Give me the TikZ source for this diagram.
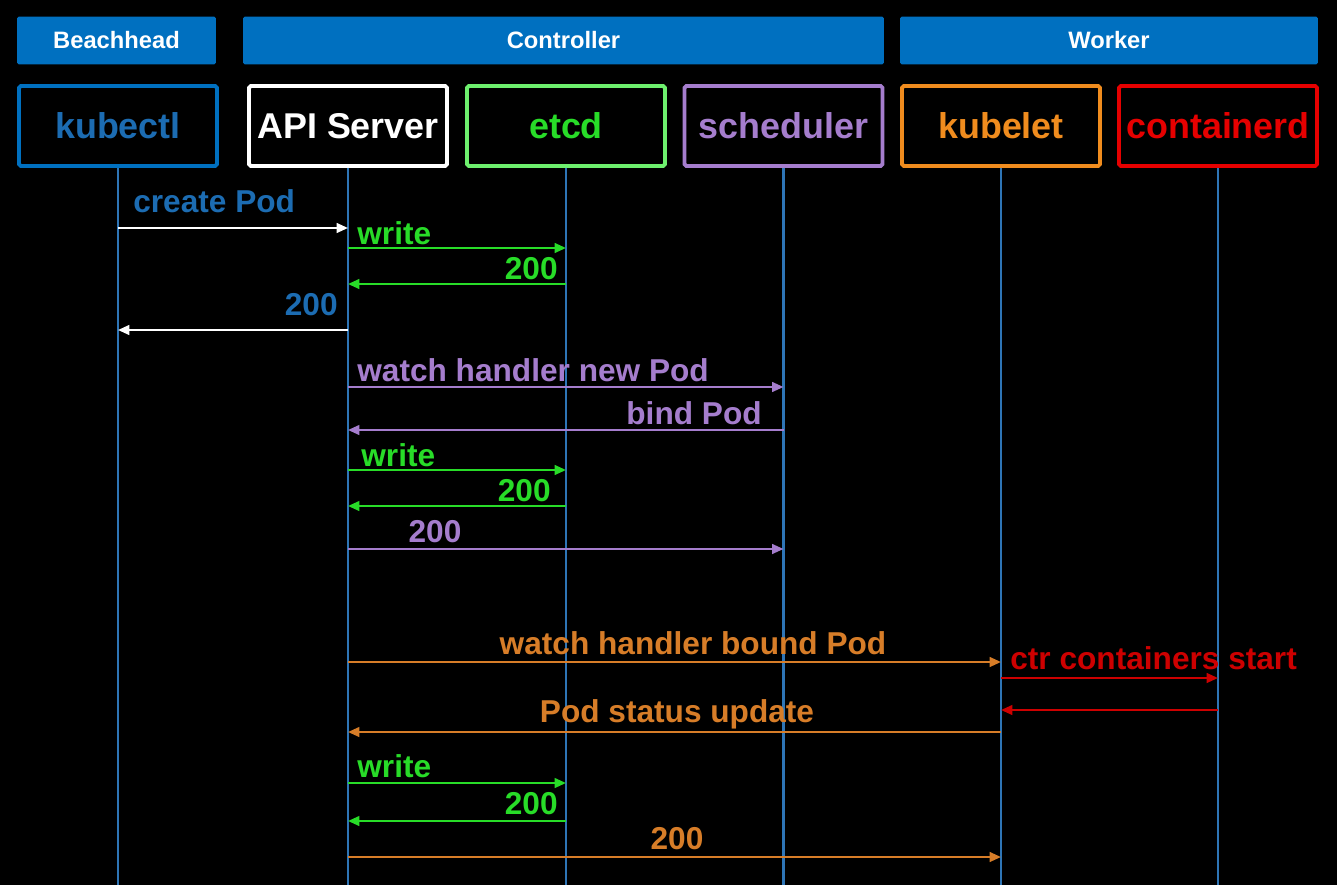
\documentclass[tikz,border=0pt]{standalone}
\usepackage{fontspec}
\setmainfont{Liberation Sans}
\usetikzlibrary{positioning,arrows.meta}
\definecolor{headblue}{RGB}{0,112,192}
\definecolor{ctlblue}{RGB}{28,108,178}
\definecolor{lifeblue}{RGB}{46,117,182}
\definecolor{etcdgreen}{RGB}{110,240,110}
\definecolor{msggreen}{RGB}{40,220,40}
\definecolor{schedpurple}{RGB}{165,125,205}
\definecolor{kletorange}{RGB}{240,140,30}
\definecolor{msgorange}{RGB}{215,125,40}
\definecolor{ctrred}{RGB}{230,0,0}
\definecolor{msgred}{RGB}{205,0,0}
\tikzset{
  header/.style={fill=headblue,text=white,minimum height=0.96cm,rounded corners=1pt,
    font=\fontsize{13.5}{16}\selectfont\bfseries},
  actor/.style={draw=#1,line width=2.2pt,fill=black,minimum width=3.96cm,minimum height=1.6cm,
    rounded corners=1pt,font=\fontsize{20.4}{24}\selectfont\bfseries},
  life/.style={draw=lifeblue,line width=1.2pt},
  msg/.style={draw=#1,line width=1.3pt,-{Triangle[length=6.5pt,width=5.5pt]}},
  lbl/.style={inner sep=0pt,text=#1,font=\fontsize{18}{20}\selectfont\bfseries}
}
\begin{document}
\begin{tikzpicture}[x=0.02cm,y=-0.02cm]
\fill[black] (0,0) rectangle (1337,885);
\useasboundingbox (0,0) rectangle (1337,885);

\node[header,minimum width=3.98cm] (beach) at (116.5,40.5) {Beachhead};
\node[header,minimum width=12.82cm] (ctrl) at (563.5,40.5) {Controller};
\node[header,minimum width=8.36cm] (work) at (1109,40.5) {Worker};

\node[actor=headblue,text=ctlblue] (kubectl) at (118,126) {kubectl};
\node[actor=white,text=white] (api) at (348,126) {API Server};
\node[actor=etcdgreen,text=msggreen] (etcd) at (566,126) {etcd};
\node[actor=schedpurple,text=schedpurple] (sched) at (783.5,126) {scheduler};
\node[actor=kletorange,text=kletorange] (kubelet) at (1001,126) {kubelet};
\node[actor=ctrred,text=ctrred] (ctrd) at (1218,126) {containerd};

\foreach \p in {kubectl,api,etcd,sched,kubelet,ctrd}
  \draw[life] (\p.south) -- (\p |- 0,885);

\draw[msg=white] (kubectl |- 0,228) -- (api |- 0,228);
\node[lbl=ctlblue,anchor=base west] (m1) at (133,213) {create Pod};
\draw[msg=msggreen] (api |- 0,248) -- (etcd |- 0,248);
\node[lbl=msggreen,anchor=base west] (m2) at (357,244) {write};
\draw[msg=msggreen] (etcd |- 0,284) -- (api |- 0,284);
\node[lbl=msggreen,anchor=base east] (m3) at (558,279) {200};
\draw[msg=white] (api |- 0,330) -- (kubectl |- 0,330);
\node[lbl=ctlblue,anchor=base east] (m4) at (338,315) {200};

\draw[msg=schedpurple] (api |- 0,387) -- (sched |- 0,387);
\node[lbl=schedpurple,anchor=base west] (m5) at (357,381) {watch handler new Pod};
\draw[msg=schedpurple] (sched |- 0,430) -- (api |- 0,430);
\node[lbl=schedpurple,anchor=base east] (m6) at (762,424) {bind Pod};
\draw[msg=msggreen] (api |- 0,470) -- (etcd |- 0,470);
\node[lbl=msggreen,anchor=base west] (m7) at (361,466) {write};
\draw[msg=msggreen] (etcd |- 0,506) -- (api |- 0,506);
\node[lbl=msggreen,anchor=base east] (m8) at (551,501) {200};
\draw[msg=schedpurple] (api |- 0,549) -- (sched |- 0,549);
\node[lbl=schedpurple,anchor=base] (m9) at (435,542) {200};

\draw[msg=msgorange] (api |- 0,662) -- (kubelet |- 0,662);
\node[lbl=msgorange,anchor=base] (m10) at (693,654) {watch handler bound Pod};
\draw[msg=msgred] (kubelet |- 0,678) -- (ctrd |- 0,678);
\node[lbl=msgred,anchor=base west] (m11) at (1010,669) {ctr containers start};
\draw[msg=msgred] (ctrd |- 0,710) -- (kubelet |- 0,710);
\draw[msg=msgorange] (kubelet |- 0,732) -- (api |- 0,732);
\node[lbl=msgorange,anchor=base] (m12) at (677,722) {Pod status update};
\draw[msg=msggreen] (api |- 0,783) -- (etcd |- 0,783);
\node[lbl=msggreen,anchor=base west] (m13) at (357,777) {write};
\draw[msg=msggreen] (etcd |- 0,821) -- (api |- 0,821);
\node[lbl=msggreen,anchor=base east] (m14) at (558,814) {200};
\draw[msg=msgorange] (api |- 0,857) -- (kubelet |- 0,857);
\node[lbl=msgorange,anchor=base] (m15) at (677,849) {200};
\end{tikzpicture}
\end{document}
